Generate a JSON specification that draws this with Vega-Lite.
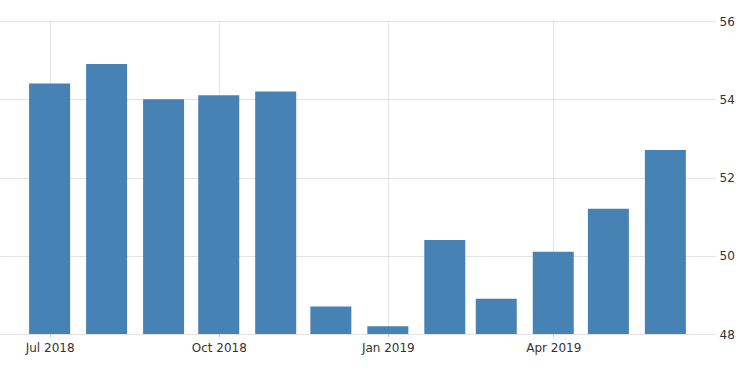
{
  "$schema": "https://vega.github.io/schema/vega-lite/v6.json",
  "autosize": "none",
  "width": 715,
  "height": 313,
  "padding": {"left": 0, "top": 21, "right": 35, "bottom": 39},
  "background": "white",
  "config": {
    "view": {"stroke": null},
    "font": "DejaVu Sans"
  },
  "data": {
    "values": [
      {"date": "2018-07-01", "value": 54.4},
      {"date": "2018-08-01", "value": 54.9},
      {"date": "2018-09-01", "value": 54.0},
      {"date": "2018-10-01", "value": 54.1},
      {"date": "2018-11-01", "value": 54.2},
      {"date": "2018-12-01", "value": 48.7},
      {"date": "2019-01-01", "value": 48.2},
      {"date": "2019-02-01", "value": 50.4},
      {"date": "2019-03-01", "value": 48.9},
      {"date": "2019-04-01", "value": 50.1},
      {"date": "2019-05-01", "value": 51.2},
      {"date": "2019-06-01", "value": 52.7}
    ]
  },
  "mark": {"type": "bar", "width": 41, "color": "#4682b4", "clip": true},
  "encoding": {
    "x": {
      "field": "date",
      "type": "temporal",
      "scale": {
        "type": "utc",
        "padding": 0,
        "domain": [
          {"year": 2018, "month": 6, "date": 4, "utc": true},
          {"year": 2019, "month": 6, "date": 28, "utc": true}
        ]
      },
      "axis": {
        "title": null,
        "values": [
          {"year": 2018, "month": 7, "date": 1, "utc": true},
          {"year": 2018, "month": 10, "date": 1, "utc": true},
          {"year": 2019, "month": 1, "date": 1, "utc": true},
          {"year": 2019, "month": 4, "date": 1, "utc": true}
        ],
        "labelExpr": "utcFormat(datum.value, '%b %Y')",
        "domain": false,
        "ticks": true,
        "tickSize": 3,
        "tickColor": "#cccccc",
        "labelPadding": 5,
        "labelFontSize": 12,
        "labelColor": "#333333",
        "grid": true,
        "gridColor": "#c8c8c8",
        "gridDash": [1, 1],
        "gridWidth": 1
      }
    },
    "y": {
      "field": "value",
      "type": "quantitative",
      "scale": {"domain": [48, 56], "zero": false, "nice": false},
      "axis": {
        "orient": "right",
        "title": null,
        "values": [48, 50, 52, 54, 56],
        "domain": false,
        "ticks": false,
        "labelPadding": 4,
        "labelFontSize": 12,
        "labelColor": "#333333",
        "grid": true,
        "gridColor": "#c8c8c8",
        "gridDash": [1, 1],
        "gridWidth": 1
      }
    }
  }
}
